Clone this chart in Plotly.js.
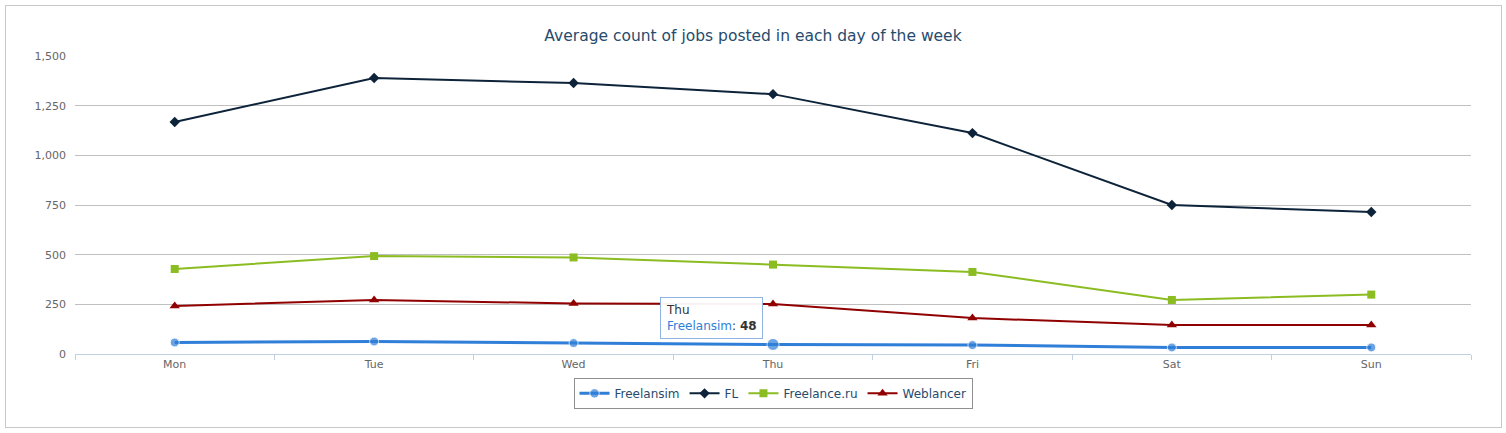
<!DOCTYPE html>
<html>
<head>
<meta charset="utf-8">
<script src="https://cdn.plot.ly/plotly-3.0.1.min.js"></script>
<style>
  html, body { margin: 0; padding: 0; background: #fff; }
  #wrap { position: relative; width: 1506px; height: 433px; }
  #chart { width: 1506px; height: 433px; }
  #frame { position: absolute; left: 5px; top: 5px; width: 1495px; height: 421px; border: 1px solid #c8c8c8; pointer-events: none; }
</style>
</head>
<body>
<div id="wrap">
  <div id="chart"></div>
  <div id="frame"></div>
</div>
<script>
const days = ["Mon", "Tue", "Wed", "Thu", "Fri", "Sat", "Sun"];
const freelansim = [58, 63, 55, 48, 45, 33, 33];
const fl = [1168, 1389, 1364, 1308, 1112, 750, 715];
const freelanceRu = [428, 493, 486, 450, 413, 272, 299];
const weblancer = [242, 272, 254, 252, 181, 146, 146];
const yTicks = [0, 250, 500, 750, 1000, 1250, 1500];
const hoverDay = "Thu";

const FONT = '"Lucida Grande", "DejaVu Sans", Verdana, sans-serif';

const freelansimSizes = days.map(d => d === hoverDay ? 12 : 9);

const traces = [
  {
    name: "Freelansim", x: days, y: freelansim, type: "scatter", mode: "lines+markers",
    line: { color: "#2f7ed8", width: 3 },
    marker: { symbol: "circle", size: freelansimSizes, color: "#2f7ed8" }
  },
  {
    name: "FL", x: days, y: fl, type: "scatter", mode: "lines+markers",
    line: { color: "#0d233a", width: 2 },
    marker: { symbol: "diamond", size: 8, color: "#0d233a" }
  },
  {
    name: "Freelance.ru", x: days, y: freelanceRu, type: "scatter", mode: "lines+markers",
    line: { color: "#8bbc21", width: 2 },
    marker: { symbol: "square", size: 8, color: "#8bbc21" }
  },
  {
    name: "Weblancer", x: days, y: weblancer, type: "scatter", mode: "lines+markers",
    line: { color: "#910000", width: 2 },
    marker: { symbol: "triangle-up", size: 9, color: "#910000" }
  }
];

const hoverIdx = days.indexOf(hoverDay);

const layout = {
  width: 1506, height: 433,
  margin: { l: 75, r: 35, t: 56, b: 79 },
  paper_bgcolor: "#ffffff", plot_bgcolor: "#ffffff",
  font: { family: FONT, size: 11, color: "#666666" },
  title: {
    text: "Average count of jobs posted in each day of the week",
    font: { family: FONT, size: 15.5, color: "#274b6d" },
    x: 0.5, xanchor: "center", y: 0.917, yanchor: "middle"
  },
  xaxis: {
    type: "category", categoryorder: "array", categoryarray: days,
    range: [-0.5, 6.5],
    showgrid: false, zeroline: false,
    showline: true, linecolor: "#c0d0e0", linewidth: 1,
    ticks: "outside", tickson: "boundaries", ticklen: 5, tickcolor: "#c0d0e0",
    tickfont: { family: FONT, size: 11, color: "#666666" },
    fixedrange: true
  },
  yaxis: {
    range: [0, 1500],
    tickvals: yTicks, tickformat: ",d",
    showgrid: true, gridcolor: "#c0c0c0", gridwidth: 1,
    zeroline: false, showline: false, ticks: "",
    ticklabelstandoff: 8,
    tickfont: { family: FONT, size: 11, color: "#666666" },
    fixedrange: true
  },
  showlegend: true,
  legend: {
    orientation: "h", x: 0.5, xanchor: "center", y: -0.08, yanchor: "top",
    bordercolor: "#909090", borderwidth: 1, bgcolor: "#ffffff",
    font: { family: FONT, size: 12, color: "#274b6d" },
    itemwidth: 30
  },
  annotations: [
    {
      x: hoverDay, y: freelansim[hoverIdx], xref: "x", yref: "y",
      text: hoverDay + "<br><span style='color:#2f7ed8'>Freelansim</span>: <b>" + freelansim[hoverIdx] + "</b>",
      showarrow: true, arrowcolor: "rgba(0,0,0,0)", arrowwidth: 0.1,
      ax: -62, ay: -26,
      align: "left",
      font: { family: FONT, size: 12, color: "#333333" },
      bgcolor: "rgba(255,255,255,0.95)", bordercolor: "#8fb4e3", borderwidth: 1, borderpad: 5
    }
  ]
};

Plotly.newPlot("chart", traces, layout, { displayModeBar: false, staticPlot: true });
</script>
</body>
</html>
